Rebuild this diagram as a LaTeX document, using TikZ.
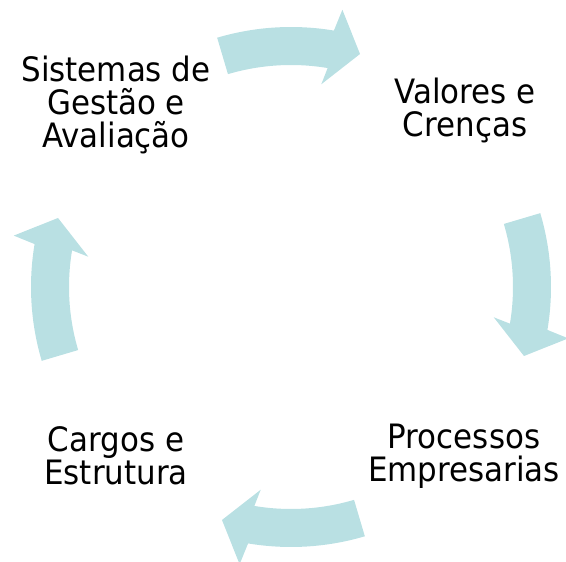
\documentclass[tikz,border=0pt]{standalone}
\usepackage{fontspec}
\setmainfont{DejaVu Sans}[FakeStretch=0.92]
\definecolor{arrowteal}{RGB}{185,224,227}
\begin{document}
\begin{tikzpicture}[x=1pt,y=1pt,
  lbl/.style={align=center,inner sep=0pt,anchor=base,font=\fontsize{33.6}{33.3}\selectfont},
  cyclearrow/.style={fill=arrowteal}]
\useasboundingbox (0,0) rectangle (566,562);
\coordinate (ctr) at (291,275);
\foreach \c in {90,0,-90,180}{
  \begin{scope}[shift={(ctr)},rotate=\c]
    \fill[cyclearrow] (16.5:260) arc[start angle=16.5,end angle=-9.5,radius=260pt]
      -- (-10.5:282) -- (-16.5:243) -- (-8.5:205) -- (-9.5:222)
      arc[start angle=-9.5,end angle=16.5,radius=222pt] -- cycle;
  \end{scope}
}
\node[lbl] (sis) at (116,414) {Sistemas de\\Gestão e\\Avaliação};
\node[lbl] (val) at (465,425) {Valores e\\Crenças};
\node[lbl] (pro) at (464,80) {Processos\\Empresarias};
\node[lbl] (car) at (116,77) {Cargos e\\Estrutura};
\end{tikzpicture}
\end{document}
